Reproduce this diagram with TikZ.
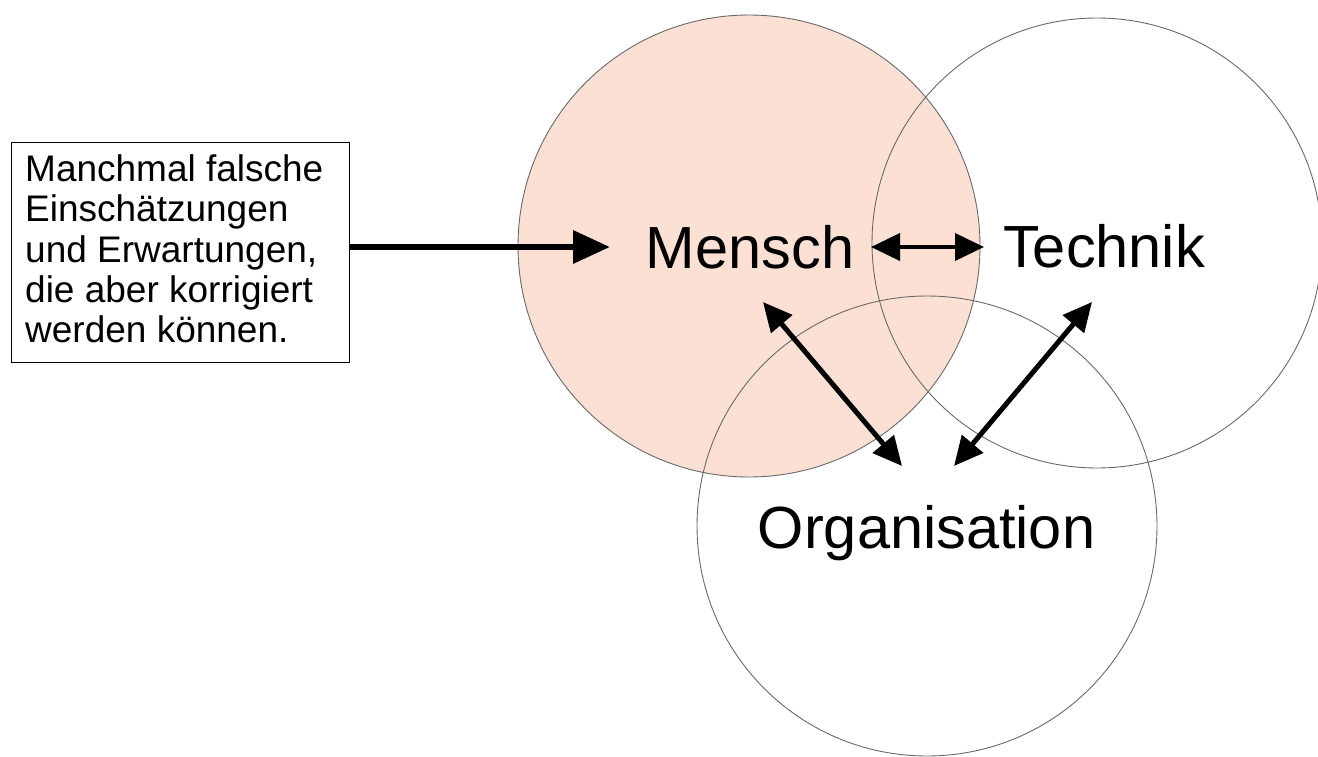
\documentclass[tikz,border=0pt]{standalone}
\usepackage{fontspec}
\setmainfont{Liberation Sans}
\usetikzlibrary{arrows.meta}
\definecolor{menschfill}{RGB}{252,224,212}
\definecolor{ringgray}{RGB}{105,105,105}
\begin{document}
\begin{tikzpicture}[x=1pt,y=-1pt,
  ring/.style={circle, draw=ringgray, line width=0.9pt, inner sep=0pt},
  bigarrow/.style={line width=6.5pt, -{Triangle[length=37pt,width=32pt]}},
  link/.style={line width=5pt, {Triangle[length=29pt,width=27pt]}-{Triangle[length=29pt,width=27pt]}},
  biglabel/.style={font=\fontsize{59.5}{62}\selectfont, inner sep=0pt},
  notebox/.style={draw=black, line width=1pt, inner sep=0pt, anchor=north west}]
\useasboundingbox (0,0) rectangle (1318,757);
% circles
\node[ring, fill=menschfill, minimum size=462pt] (cmensch) at (749,246) {};
\node[ring, minimum size=450pt] (ctechnik) at (1097,243) {};
\node[ring, minimum size=460pt] (corg) at (927,526) {};
% labels
\node[biglabel, anchor=base] (mensch) at (750,268) {Mensch};
\node[biglabel, anchor=base] (technik) at (1104,267) {Technik};
\node[biglabel, anchor=base] (org) at (926.5,548) {Organisation};
% note box
\node[notebox, minimum width=338pt, minimum height=220pt] (box) at (11,142) {};
\node[anchor=base west, align=left, inner sep=0pt,
  font=\fontsize{37}{40.25}\selectfont] (boxtext) at (25,342.7)
  {Manchmal falsche\\Einschätzungen\\und Erwartungen,\\die aber korrigiert\\werden können.};
% arrow end points
\coordinate (boxout) at (349,247);
\coordinate (menschin) at (610,247);
\coordinate (mtl) at (871,247);
\coordinate (mtr) at (984,247);
\coordinate (mo1) at (763,302);
\coordinate (mo2) at (902,466);
\coordinate (to1) at (1092,302);
\coordinate (to2) at (954,466);
% arrows
\draw[bigarrow] (boxout) -- (menschin);
\draw[link, line width=4pt] (mtl) -- (mtr);
\draw[link] (mo1) -- (mo2);
\draw[link] (to1) -- (to2);
\end{tikzpicture}
\end{document}
